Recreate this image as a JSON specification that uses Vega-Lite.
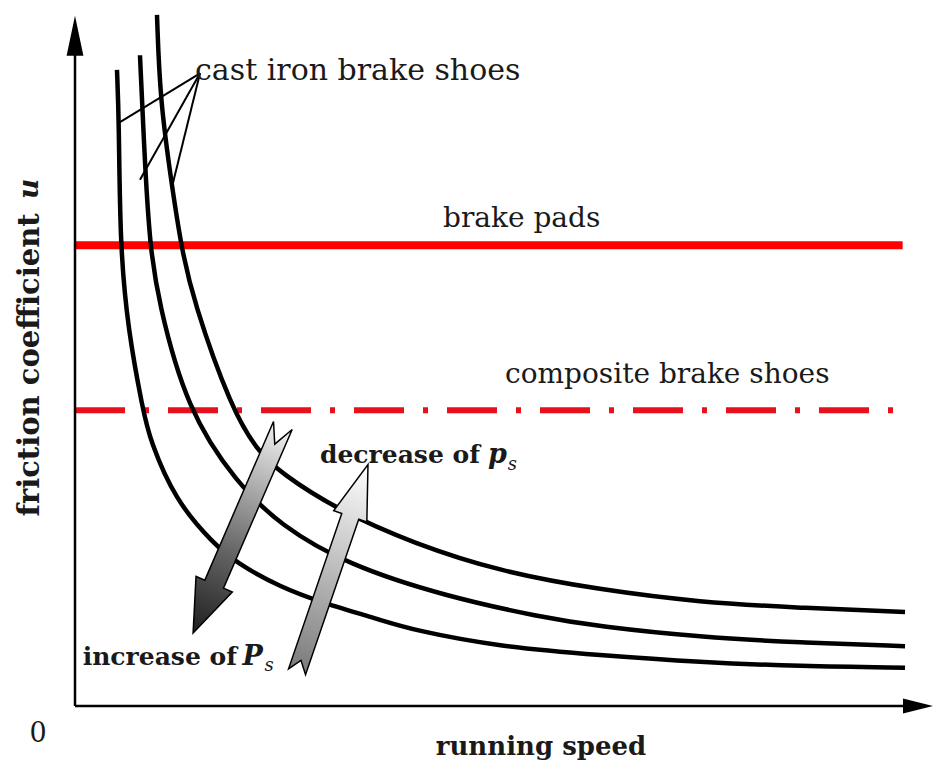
{
  "$schema": "https://vega.github.io/schema/vega-lite/v6.json",
  "width": 855,
  "height": 696,
  "autosize": "none",
  "padding": {"left": 75, "top": 10, "right": 6, "bottom": 60},
  "background": "white",
  "config": {"view": {"stroke": null}},
  "datasets": {
    "curves": [
      {"curve": "A", "speed": 4.91, "mu": 0.914}, {"curve": "A", "speed": 5.15, "mu": 0.839}, {"curve": "A", "speed": 5.26, "mu": 0.662},
      {"curve": "A", "speed": 6.2, "mu": 0.54}, {"curve": "A", "speed": 7.95, "mu": 0.425}, {"curve": "A", "speed": 8.77, "mu": 0.382},
      {"curve": "A", "speed": 11.7, "mu": 0.296}, {"curve": "A", "speed": 16.14, "mu": 0.234}, {"curve": "A", "speed": 18.95, "mu": 0.205},
      {"curve": "A", "speed": 23.98, "mu": 0.171}, {"curve": "A", "speed": 29.01, "mu": 0.148}, {"curve": "A", "speed": 35.67, "mu": 0.124},
      {"curve": "A", "speed": 39.53, "mu": 0.109}, {"curve": "A", "speed": 49.71, "mu": 0.085}, {"curve": "A", "speed": 61.4, "mu": 0.073},
      {"curve": "A", "speed": 73.1, "mu": 0.063}, {"curve": "A", "speed": 84.8, "mu": 0.057}, {"curve": "A", "speed": 97.08, "mu": 0.055},
      {"curve": "B", "speed": 7.6, "mu": 0.935}, {"curve": "B", "speed": 8.19, "mu": 0.774}, {"curve": "B", "speed": 8.77, "mu": 0.662},
      {"curve": "B", "speed": 9.71, "mu": 0.583}, {"curve": "B", "speed": 13.1, "mu": 0.425}, {"curve": "B", "speed": 18.95, "mu": 0.32},
      {"curve": "B", "speed": 23.98, "mu": 0.26}, {"curve": "B", "speed": 31.81, "mu": 0.203}, {"curve": "B", "speed": 43.51, "mu": 0.157},
      {"curve": "B", "speed": 54.39, "mu": 0.128}, {"curve": "B", "speed": 61.4, "mu": 0.114}, {"curve": "B", "speed": 73.1, "mu": 0.099},
      {"curve": "B", "speed": 84.8, "mu": 0.091}, {"curve": "B", "speed": 97.08, "mu": 0.086},
      {"curve": "C", "speed": 9.59, "mu": 0.993}, {"curve": "C", "speed": 9.94, "mu": 0.871}, {"curve": "C", "speed": 11.35, "mu": 0.746},
      {"curve": "C", "speed": 12.4, "mu": 0.662}, {"curve": "C", "speed": 13.8, "mu": 0.583}, {"curve": "C", "speed": 18.36, "mu": 0.425},
      {"curve": "C", "speed": 21.29, "mu": 0.368}, {"curve": "C", "speed": 23.98, "mu": 0.335}, {"curve": "C", "speed": 30.99, "mu": 0.28},
      {"curve": "C", "speed": 39.53, "mu": 0.234}, {"curve": "C", "speed": 49.71, "mu": 0.193}, {"curve": "C", "speed": 61.4, "mu": 0.167},
      {"curve": "C", "speed": 73.1, "mu": 0.149}, {"curve": "C", "speed": 84.8, "mu": 0.141}, {"curve": "C", "speed": 97.08, "mu": 0.135}
    ],
    "levels": [
      {"name": "brake pads", "x0": 0, "x1": 96.8, "mu": 0.662},
      {"name": "composite brake shoes", "x0": 0, "x1": 96.8, "mu": 0.425}
    ],
    "leaders": [
      {"x0": 14.62, "y0": 0.909, "x1": 5.26, "y1": 0.839},
      {"x0": 14.62, "y0": 0.909, "x1": 7.6, "y1": 0.756},
      {"x0": 14.62, "y0": 0.909, "x1": 11.35, "y1": 0.746}
    ],
    "axes": [
      {"axis": "x", "x0": 0, "y0": 0, "x1": 98, "y1": 0},
      {"axis": "y", "x0": 0, "y0": 0, "x1": 0, "y1": 0.96}
    ],
    "heads": [
      {"axis": "x", "x": 98.6, "y": 0},
      {"axis": "y", "x": 0, "y": 0.963}
    ],
    "bigArrows": [
      {"name": "increase", "x": 19.06, "y": 0.254},
      {"name": "decrease", "x": 30.12, "y": 0.198}
    ],
    "labels": [
      {"style": "regular", "text": "cast iron brake shoes", "x": 14.04, "y": 0.899},
      {"style": "regular", "text": "brake pads", "x": 43.04, "y": 0.688},
      {"style": "regular", "text": "composite brake shoes", "x": 50.29, "y": 0.464},
      {"style": "bold", "text": "decrease of", "x": 28.65, "y": 0.349},
      {"style": "bold", "text": "increase of", "x": 0.9, "y": 0.059},
      {"style": "bolditalic", "text": "p", "x": 48.3, "y": 0.349},
      {"style": "bolditalic", "text": "P", "x": 19.6, "y": 0.059},
      {"style": "sub", "text": "s", "x": 22.15, "y": 0.05},
      {"style": "sub", "text": "s", "x": 50.6, "y": 0.339}
    ],
    "centerLabels": [
      {"style": "zero", "text": "0", "x": -4.33, "y": -0.052},
      {"style": "title", "text": "running speed", "x": 54.5, "y": -0.07}
    ],
    "yTitle": [
      {"part": "main", "text": "friction coefficient", "x": -5.3, "y": 0.49},
      {"part": "symbol", "text": "u", "x": -5.3, "y": 0.743}
    ]
  },
  "layer": [
    {
      "data": {"name": "levels"},
      "transform": [{"filter": "datum.name === 'brake pads'"}],
      "mark": {"type": "rule", "color": "#ff0000", "strokeWidth": 8},
      "encoding": {
        "x": {"field": "x0", "type": "quantitative", "scale": {"domain": [0, 100], "nice": false}, "axis": null},
        "x2": {"field": "x1"},
        "y": {"field": "mu", "type": "quantitative", "scale": {"domain": [0, 1], "nice": false}, "axis": null}
      }
    },
    {
      "data": {"name": "levels"},
      "transform": [{"filter": "datum.name === 'composite brake shoes'"}],
      "mark": {"type": "rule", "color": "#e8101c", "strokeWidth": 6, "strokeDash": [50, 19, 5, 19]},
      "encoding": {
        "x": {"field": "x0", "type": "quantitative", "scale": {"domain": [0, 100], "nice": false}, "axis": null},
        "x2": {"field": "x1"},
        "y": {"field": "mu", "type": "quantitative", "scale": {"domain": [0, 1], "nice": false}, "axis": null}
      }
    },
    {
      "data": {"name": "curves"},
      "mark": {"type": "line", "color": "#000000", "strokeWidth": 4.5, "interpolate": "basis"},
      "encoding": {
        "x": {"field": "speed", "type": "quantitative", "scale": {"domain": [0, 100], "nice": false}, "axis": null},
        "y": {"field": "mu", "type": "quantitative", "scale": {"domain": [0, 1], "nice": false}, "axis": null},
        "detail": {"field": "curve", "type": "nominal"}
      }
    },
    {
      "data": {"name": "leaders"},
      "mark": {"type": "rule", "color": "#000000", "strokeWidth": 2},
      "encoding": {
        "x": {"field": "x0", "type": "quantitative", "scale": {"domain": [0, 100], "nice": false}, "axis": null},
        "y": {"field": "y0", "type": "quantitative", "scale": {"domain": [0, 1], "nice": false}, "axis": null},
        "x2": {"field": "x1"},
        "y2": {"field": "y1"}
      }
    },
    {
      "data": {"name": "axes"},
      "mark": {"type": "rule", "color": "#000000", "strokeWidth": 2.5},
      "encoding": {
        "x": {"field": "x0", "type": "quantitative", "scale": {"domain": [0, 100], "nice": false}, "axis": null},
        "y": {"field": "y0", "type": "quantitative", "scale": {"domain": [0, 1], "nice": false}, "axis": null},
        "x2": {"field": "x1"},
        "y2": {"field": "y1"}
      }
    },
    {
      "data": {"name": "heads"},
      "transform": [{"filter": "datum.axis === 'x'"}],
      "mark": {"type": "point", "shape": "M1,0L-1,-0.5L-1,0.5Z", "size": 900, "filled": true, "color": "#000000", "opacity": 1},
      "encoding": {
        "x": {"field": "x", "type": "quantitative", "scale": {"domain": [0, 100], "nice": false}, "axis": null},
        "y": {"field": "y", "type": "quantitative", "scale": {"domain": [0, 1], "nice": false}, "axis": null}
      }
    },
    {
      "data": {"name": "heads"},
      "transform": [{"filter": "datum.axis === 'y'"}],
      "mark": {"type": "point", "shape": "M0,-1L0.42,1L-0.42,1Z", "size": 1600, "filled": true, "color": "#000000", "opacity": 1},
      "encoding": {
        "x": {"field": "x", "type": "quantitative", "scale": {"domain": [0, 100], "nice": false}, "axis": null},
        "y": {"field": "y", "type": "quantitative", "scale": {"domain": [0, 1], "nice": false}, "axis": null}
      }
    },
    {
      "data": {"name": "bigArrows"},
      "transform": [{"filter": "datum.name === 'increase'"}],
      "mark": {
        "type": "point",
        "shape": "M0,-1L0.175,-0.53L0.09,-0.53L0.09,1L0,0.82L-0.09,1L-0.09,-0.53L-0.175,-0.53Z",
        "size": 51076,
        "angle": 203.4,
        "opacity": 1,
        "fillOpacity": 1,
        "fill": {"gradient": "linear", "x1": 0, "y1": 0, "x2": 0, "y2": 1, "stops": [{"offset": 0, "color": "#1e1e1e"}, {"offset": 0.4, "color": "#666666"}, {"offset": 1, "color": "#f2f2f2"}]},
        "stroke": "#000000",
        "strokeWidth": 1.5
      },
      "encoding": {
        "x": {"field": "x", "type": "quantitative", "scale": {"domain": [0, 100], "nice": false}, "axis": null},
        "y": {"field": "y", "type": "quantitative", "scale": {"domain": [0, 1], "nice": false}, "axis": null}
      }
    },
    {
      "data": {"name": "bigArrows"},
      "transform": [{"filter": "datum.name === 'decrease'"}],
      "mark": {
        "type": "point",
        "shape": "M0,-1L0.16,-0.5L0.082,-0.5L0.082,1L0,0.89L-0.082,1L-0.082,-0.5L-0.16,-0.5Z",
        "size": 47961,
        "angle": 18.9,
        "opacity": 1,
        "fillOpacity": 1,
        "fill": {"gradient": "linear", "x1": 0, "y1": 0, "x2": 0, "y2": 1, "stops": [{"offset": 0, "color": "#ffffff"}, {"offset": 1, "color": "#7a7a7a"}]},
        "stroke": "#000000",
        "strokeWidth": 1.5
      },
      "encoding": {
        "x": {"field": "x", "type": "quantitative", "scale": {"domain": [0, 100], "nice": false}, "axis": null},
        "y": {"field": "y", "type": "quantitative", "scale": {"domain": [0, 1], "nice": false}, "axis": null}
      }
    },
    {
      "data": {"name": "labels"},
      "transform": [{"filter": "datum.style === 'regular' && datum.text === 'cast iron brake shoes'"}],
      "mark": {"type": "text", "font": "DejaVu Serif", "fontSize": 30, "color": "#1a1a1a", "align": "left", "baseline": "alphabetic"},
      "encoding": {
        "x": {"field": "x", "type": "quantitative", "scale": {"domain": [0, 100], "nice": false}, "axis": null},
        "y": {"field": "y", "type": "quantitative", "scale": {"domain": [0, 1], "nice": false}, "axis": null},
        "text": {"field": "text"}
      }
    },
    {
      "data": {"name": "labels"},
      "transform": [{"filter": "datum.style === 'regular' && datum.text !== 'cast iron brake shoes'"}],
      "mark": {"type": "text", "font": "DejaVu Serif", "fontSize": 28, "color": "#1a1a1a", "align": "left", "baseline": "alphabetic"},
      "encoding": {
        "x": {"field": "x", "type": "quantitative", "scale": {"domain": [0, 100], "nice": false}, "axis": null},
        "y": {"field": "y", "type": "quantitative", "scale": {"domain": [0, 1], "nice": false}, "axis": null},
        "text": {"field": "text"}
      }
    },
    {
      "data": {"name": "labels"},
      "transform": [{"filter": "datum.style === 'bold'"}],
      "mark": {"type": "text", "font": "DejaVu Serif", "fontSize": 25, "fontWeight": "bold", "color": "#1a1a1a", "align": "left", "baseline": "alphabetic"},
      "encoding": {
        "x": {"field": "x", "type": "quantitative", "scale": {"domain": [0, 100], "nice": false}, "axis": null},
        "y": {"field": "y", "type": "quantitative", "scale": {"domain": [0, 1], "nice": false}, "axis": null},
        "text": {"field": "text"}
      }
    },
    {
      "data": {"name": "labels"},
      "transform": [{"filter": "datum.style === 'bolditalic'"}],
      "mark": {"type": "text", "font": "DejaVu Serif", "fontSize": 27, "fontWeight": "bold", "fontStyle": "italic", "color": "#1a1a1a", "align": "left", "baseline": "alphabetic"},
      "encoding": {
        "x": {"field": "x", "type": "quantitative", "scale": {"domain": [0, 100], "nice": false}, "axis": null},
        "y": {"field": "y", "type": "quantitative", "scale": {"domain": [0, 1], "nice": false}, "axis": null},
        "text": {"field": "text"}
      }
    },
    {
      "data": {"name": "labels"},
      "transform": [{"filter": "datum.style === 'sub'"}],
      "mark": {"type": "text", "font": "DejaVu Serif", "fontSize": 18, "fontStyle": "italic", "color": "#1a1a1a", "align": "left", "baseline": "alphabetic"},
      "encoding": {
        "x": {"field": "x", "type": "quantitative", "scale": {"domain": [0, 100], "nice": false}, "axis": null},
        "y": {"field": "y", "type": "quantitative", "scale": {"domain": [0, 1], "nice": false}, "axis": null},
        "text": {"field": "text"}
      }
    },
    {
      "data": {"name": "centerLabels"},
      "transform": [{"filter": "datum.style === 'zero'"}],
      "mark": {"type": "text", "font": "DejaVu Serif", "fontSize": 27, "color": "#1a1a1a", "align": "center", "baseline": "alphabetic"},
      "encoding": {
        "x": {"field": "x", "type": "quantitative", "scale": {"domain": [0, 100], "nice": false}, "axis": null},
        "y": {"field": "y", "type": "quantitative", "scale": {"domain": [0, 1], "nice": false}, "axis": null},
        "text": {"field": "text"}
      }
    },
    {
      "data": {"name": "centerLabels"},
      "transform": [{"filter": "datum.style === 'title'"}],
      "mark": {"type": "text", "font": "DejaVu Serif", "fontSize": 26, "fontWeight": "bold", "color": "#1a1a1a", "align": "center", "baseline": "alphabetic"},
      "encoding": {
        "x": {"field": "x", "type": "quantitative", "scale": {"domain": [0, 100], "nice": false}, "axis": null},
        "y": {"field": "y", "type": "quantitative", "scale": {"domain": [0, 1], "nice": false}, "axis": null},
        "text": {"field": "text"}
      }
    },
    {
      "data": {"name": "yTitle"},
      "transform": [{"filter": "datum.part === 'main'"}],
      "mark": {"type": "text", "font": "DejaVu Serif", "fontSize": 29, "fontWeight": "bold", "color": "#1a1a1a", "align": "center", "baseline": "middle", "angle": 270},
      "encoding": {
        "x": {"field": "x", "type": "quantitative", "scale": {"domain": [0, 100], "nice": false}, "axis": null},
        "y": {"field": "y", "type": "quantitative", "scale": {"domain": [0, 1], "nice": false}, "axis": null},
        "text": {"field": "text"}
      }
    },
    {
      "data": {"name": "yTitle"},
      "transform": [{"filter": "datum.part === 'symbol'"}],
      "mark": {"type": "text", "font": "DejaVu Serif", "fontSize": 28, "fontWeight": "bold", "fontStyle": "italic", "color": "#1a1a1a", "align": "center", "baseline": "middle", "angle": 270},
      "encoding": {
        "x": {"field": "x", "type": "quantitative", "scale": {"domain": [0, 100], "nice": false}, "axis": null},
        "y": {"field": "y", "type": "quantitative", "scale": {"domain": [0, 1], "nice": false}, "axis": null},
        "text": {"field": "text"}
      }
    }
  ]
}
